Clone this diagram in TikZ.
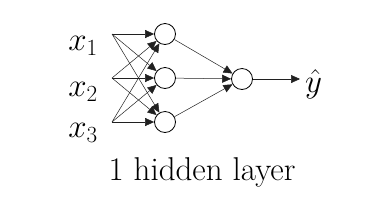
\RequirePackage{fix-cm}
\documentclass[tikz,border=0pt]{standalone}
\usepackage{tikz}
\usetikzlibrary{positioning, arrows.meta}
\definecolor{color_text}{HTML}{000000}
\definecolor{color_line}{HTML}{202020}
\tikzset{
  unit_node/.style={circle, draw=color_text, line width=0.8pt, fill=white, inner sep=0pt, minimum size=21pt},
  input_label/.style={font=\fontsize{33}{36}\selectfont, text=color_text, inner sep=0pt},
  caption_label/.style={font=\fontsize{33}{36}\selectfont, text=color_text, inner sep=0pt},
  net_arrow/.style={-{Triangle[length=9pt, width=8pt]}, draw=color_line, line width=0.5pt},
}

\begin{document}
\begin{tikzpicture}[x=1pt, y=-1pt]
    \useasboundingbox (0,0) rectangle (388,210);

    % inputs
    \node[input_label] (x1) at (83, 46)  {$x_1$};
    \node[input_label] (x2) at (83, 92)  {$x_2$};
    \node[input_label] (x3) at (83, 133) {$x_3$};
    \coordinate (i1) at (112, 34);
    \coordinate (i2) at (112, 78);
    \coordinate (i3) at (112, 122);

    % hidden layer and output
    \node[unit_node] (h1) at (165, 34)  {};
    \node[unit_node] (h2) at (165, 78)  {};
    \node[unit_node] (h3) at (165, 122) {};
    \node[unit_node] (out) at (242, 79) {};
    \coordinate (yend) at (300, 79);
    \node[input_label, anchor=west] (yhat) at (305, 84) {$\hat{y}$};

    \foreach \i in {1,2,3} {
      \foreach \h in {1,2,3} {
        \draw[net_arrow] (i\i) -- (h\h);
      }
      \draw[net_arrow] (h\i) -- (out);
    }
    \draw[net_arrow] (out) -- (yend);

    \node[caption_label] (cap) at (202, 172) {1 hidden layer};
  \end{tikzpicture}
\end{document}
